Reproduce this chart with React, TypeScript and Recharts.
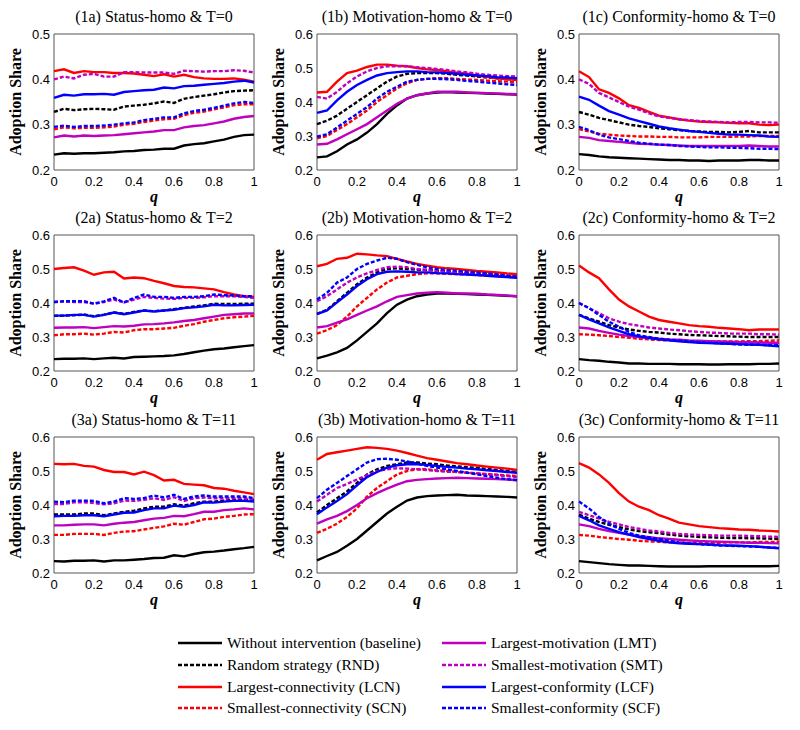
import React from "react";
import { LineChart, Line, XAxis, YAxis, ReferenceArea } from "recharts";

// q grid shared by every panel
const Q = [0, 0.05, 0.1, 0.15, 0.2, 0.25, 0.3, 0.35, 0.4, 0.45, 0.5, 0.55, 0.6, 0.65, 0.7, 0.75, 0.8, 0.85, 0.9, 0.95, 1];
const X_TICKS = [0, 0.2, 0.4, 0.6, 0.8, 1];
const Y_TICKS_05 = [0.2, 0.3, 0.4, 0.5];
const Y_TICKS_06 = [0.2, 0.3, 0.4, 0.5, 0.6];

// (1a) Status-homo & T=0
const p1a = {
  base: [0.234, 0.237, 0.236, 0.237, 0.237, 0.238, 0.239, 0.241, 0.242, 0.244, 0.245, 0.247, 0.247, 0.254, 0.257, 0.259, 0.263, 0.267, 0.273, 0.277, 0.278],
  rnd: [0.328, 0.335, 0.332, 0.334, 0.335, 0.334, 0.333, 0.34, 0.342, 0.344, 0.347, 0.351, 0.348, 0.357, 0.361, 0.364, 0.367, 0.371, 0.374, 0.375, 0.376],
  lcn: [0.418, 0.422, 0.414, 0.418, 0.416, 0.416, 0.414, 0.414, 0.413, 0.41, 0.407, 0.411, 0.406, 0.41, 0.405, 0.402, 0.401, 0.401, 0.402, 0.399, 0.395],
  scn: [0.29, 0.294, 0.292, 0.293, 0.293, 0.294, 0.296, 0.3, 0.302, 0.306, 0.309, 0.312, 0.313, 0.321, 0.326, 0.329, 0.334, 0.338, 0.343, 0.345, 0.345],
  lmt: [0.272, 0.276, 0.274, 0.276, 0.275, 0.276, 0.277, 0.279, 0.281, 0.283, 0.285, 0.288, 0.288, 0.294, 0.297, 0.299, 0.303, 0.307, 0.313, 0.317, 0.319],
  smt: [0.4, 0.406, 0.402, 0.41, 0.412, 0.406, 0.406, 0.416, 0.416, 0.415, 0.415, 0.415, 0.412, 0.419, 0.418, 0.417, 0.418, 0.418, 0.42, 0.419, 0.415],
  lcf: [0.359, 0.366, 0.364, 0.367, 0.367, 0.368, 0.366, 0.372, 0.374, 0.376, 0.377, 0.382, 0.38, 0.385, 0.386, 0.388, 0.39, 0.392, 0.395, 0.397, 0.393],
  scf: [0.295, 0.298, 0.295, 0.297, 0.297, 0.298, 0.3, 0.303, 0.305, 0.31, 0.313, 0.316, 0.316, 0.325, 0.33, 0.333, 0.337, 0.342, 0.347, 0.35, 0.348],
};

// (1b) Motivation-homo & T=0
const p1b = {
  base: [0.237, 0.24, 0.255, 0.275, 0.29, 0.31, 0.335, 0.365, 0.39, 0.41, 0.42, 0.425, 0.428, 0.429, 0.428, 0.427, 0.426, 0.425, 0.424, 0.423, 0.422],
  rnd: [0.335, 0.345, 0.36, 0.38, 0.4, 0.42, 0.44, 0.46, 0.475, 0.483, 0.485, 0.485, 0.485, 0.483, 0.48, 0.478, 0.475, 0.472, 0.47, 0.468, 0.465],
  lcn: [0.428, 0.43, 0.46, 0.485, 0.492, 0.503, 0.51, 0.51, 0.507, 0.505, 0.5, 0.496, 0.494, 0.49, 0.486, 0.483, 0.478, 0.474, 0.47, 0.467, 0.465],
  scn: [0.293, 0.3, 0.318, 0.335, 0.355, 0.375, 0.4, 0.42, 0.44, 0.455, 0.465, 0.468, 0.47, 0.47, 0.468, 0.466, 0.465, 0.463, 0.461, 0.46, 0.458],
  lmt: [0.275, 0.277, 0.29, 0.305, 0.32, 0.335, 0.355, 0.375, 0.395, 0.41, 0.42, 0.425, 0.43, 0.43, 0.43, 0.428, 0.427, 0.426, 0.425, 0.424, 0.423],
  smt: [0.415, 0.41, 0.43, 0.455, 0.475, 0.49, 0.5, 0.505, 0.505, 0.505, 0.502, 0.5, 0.497, 0.494, 0.49, 0.487, 0.483, 0.48, 0.478, 0.476, 0.475],
  lcf: [0.368, 0.375, 0.405, 0.43, 0.45, 0.465, 0.478, 0.485, 0.488, 0.49, 0.49, 0.488, 0.487, 0.485, 0.483, 0.48, 0.478, 0.476, 0.473, 0.472, 0.47],
  scf: [0.298, 0.305, 0.325, 0.345, 0.365, 0.385, 0.41, 0.43, 0.445, 0.46, 0.465, 0.468, 0.468, 0.467, 0.465, 0.462, 0.46, 0.457, 0.455, 0.452, 0.45],
};

// (1c) Conformity-homo & T=0
const p1c = {
  base: [0.235, 0.233, 0.23, 0.228, 0.227, 0.226, 0.225, 0.224, 0.223, 0.222, 0.222, 0.221, 0.221, 0.22, 0.221, 0.221, 0.221, 0.222, 0.222, 0.221, 0.221],
  rnd: [0.328, 0.322, 0.315, 0.31, 0.305, 0.3, 0.297, 0.295, 0.292, 0.29, 0.288, 0.286, 0.285, 0.284, 0.284, 0.283, 0.284, 0.286, 0.283, 0.283, 0.283],
  lcn: [0.418, 0.405, 0.378, 0.37, 0.358, 0.343, 0.337, 0.328, 0.32, 0.316, 0.312, 0.309, 0.307, 0.306, 0.305, 0.304, 0.303, 0.303, 0.3, 0.299, 0.3],
  scn: [0.29, 0.285, 0.28, 0.278, 0.276, 0.275, 0.274, 0.274, 0.273, 0.273, 0.272, 0.272, 0.272, 0.273, 0.273, 0.273, 0.274, 0.274, 0.275, 0.275, 0.275],
  lmt: [0.273, 0.271, 0.266, 0.264, 0.262, 0.26, 0.258, 0.257, 0.256, 0.255, 0.254, 0.253, 0.253, 0.253, 0.253, 0.253, 0.253, 0.254, 0.253, 0.252, 0.252],
  smt: [0.4, 0.39, 0.37, 0.36, 0.35, 0.34, 0.333, 0.325, 0.318, 0.315, 0.312, 0.31, 0.308, 0.307, 0.306, 0.305, 0.306, 0.306, 0.305, 0.305, 0.304],
  lcf: [0.362, 0.355, 0.342, 0.33, 0.322, 0.314, 0.308, 0.302, 0.296, 0.292, 0.289, 0.286, 0.284, 0.282, 0.28, 0.278, 0.278, 0.277, 0.276, 0.274, 0.273],
  scf: [0.295, 0.288, 0.278, 0.272, 0.268, 0.264, 0.26, 0.258, 0.256, 0.255, 0.253, 0.252, 0.251, 0.25, 0.25, 0.249, 0.249, 0.248, 0.247, 0.247, 0.246],
};

// (2a) Status-homo & T=2
const p2a = {
  base: [0.235, 0.236, 0.236, 0.237, 0.235, 0.237, 0.239, 0.237, 0.241, 0.242, 0.243, 0.244, 0.246, 0.25, 0.255, 0.26, 0.264, 0.266, 0.27, 0.273, 0.276],
  rnd: [0.362, 0.363, 0.364, 0.366, 0.361, 0.366, 0.372, 0.368, 0.374, 0.378, 0.376, 0.378, 0.382, 0.386, 0.39, 0.393, 0.398, 0.397, 0.397, 0.398, 0.398],
  lcn: [0.5, 0.503, 0.505, 0.495, 0.483, 0.49, 0.492, 0.472, 0.475, 0.473, 0.465, 0.458, 0.45, 0.447, 0.446, 0.443, 0.44, 0.432, 0.425, 0.42, 0.418],
  scn: [0.305, 0.308, 0.308, 0.31, 0.307, 0.31, 0.315, 0.313, 0.32, 0.323, 0.323, 0.325, 0.327, 0.333, 0.338, 0.345, 0.35, 0.355, 0.358, 0.36, 0.362],
  lmt: [0.327, 0.328, 0.328, 0.329, 0.326, 0.329, 0.332, 0.331, 0.333, 0.337, 0.338, 0.34, 0.343, 0.347, 0.35, 0.355, 0.36, 0.365, 0.367, 0.369, 0.369],
  smt: [0.403, 0.405, 0.403, 0.403, 0.398, 0.403, 0.41, 0.402, 0.41, 0.418, 0.415, 0.413, 0.412, 0.415, 0.415, 0.417, 0.42, 0.42, 0.42, 0.418, 0.415],
  lcf: [0.363, 0.363, 0.365, 0.365, 0.36, 0.365, 0.372, 0.367, 0.372, 0.378, 0.375, 0.378, 0.38, 0.385, 0.387, 0.39, 0.395, 0.393, 0.393, 0.394, 0.395],
  scf: [0.403, 0.405, 0.405, 0.405, 0.398, 0.405, 0.415, 0.402, 0.415, 0.425, 0.418, 0.418, 0.415, 0.418, 0.418, 0.42, 0.425, 0.423, 0.422, 0.42, 0.42],
};

// (2b) Motivation-homo & T=2
const p2b = {
  base: [0.237, 0.245, 0.255, 0.268, 0.29, 0.315, 0.34, 0.37, 0.395, 0.41, 0.42, 0.425, 0.428, 0.428, 0.427, 0.426, 0.425, 0.424, 0.423, 0.421, 0.42],
  rnd: [0.368, 0.38, 0.405, 0.43, 0.455, 0.475, 0.49, 0.5, 0.502, 0.5, 0.498, 0.497, 0.495, 0.493, 0.491, 0.489, 0.487, 0.485, 0.483, 0.48, 0.478],
  lcn: [0.508, 0.515, 0.53, 0.533, 0.545, 0.543, 0.54, 0.538, 0.53, 0.522, 0.515, 0.51, 0.505, 0.502, 0.5, 0.497, 0.494, 0.492, 0.49, 0.487, 0.485],
  scn: [0.31, 0.32, 0.335, 0.36, 0.39, 0.415, 0.44, 0.46, 0.475, 0.48, 0.485, 0.487, 0.487, 0.486, 0.485, 0.484, 0.482, 0.481, 0.48, 0.478, 0.476],
  lmt: [0.328, 0.332, 0.342, 0.352, 0.365, 0.378, 0.39, 0.405, 0.418, 0.423, 0.428, 0.43, 0.432, 0.43, 0.428, 0.428, 0.427, 0.425, 0.424, 0.422, 0.42],
  smt: [0.405, 0.42, 0.44, 0.46, 0.475, 0.487, 0.497, 0.505, 0.507, 0.505, 0.5, 0.497, 0.495, 0.493, 0.49, 0.488, 0.486, 0.485, 0.483, 0.48, 0.477],
  lcf: [0.367, 0.378, 0.402, 0.425, 0.45, 0.47, 0.485, 0.492, 0.493, 0.492, 0.49, 0.49, 0.488, 0.487, 0.485, 0.484, 0.482, 0.48, 0.478, 0.476, 0.474],
  scf: [0.41, 0.43, 0.46, 0.475, 0.5, 0.515, 0.525, 0.533, 0.53, 0.52, 0.512, 0.505, 0.5, 0.497, 0.495, 0.492, 0.49, 0.487, 0.484, 0.48, 0.477],
};

// (2c) Conformity-homo & T=2
const p2c = {
  base: [0.235, 0.232, 0.23, 0.227, 0.225, 0.222, 0.222, 0.221, 0.221, 0.221, 0.22, 0.22, 0.22, 0.219, 0.219, 0.22, 0.22, 0.22, 0.221, 0.221, 0.222],
  rnd: [0.365, 0.355, 0.345, 0.335, 0.328, 0.322, 0.318, 0.315, 0.313, 0.31, 0.308, 0.306, 0.305, 0.304, 0.303, 0.302, 0.301, 0.3, 0.3, 0.3, 0.3],
  lcn: [0.51, 0.49, 0.473, 0.44, 0.41, 0.39, 0.375, 0.36, 0.35, 0.345, 0.34, 0.335, 0.332, 0.33, 0.327, 0.325, 0.323, 0.32, 0.322, 0.322, 0.322],
  scn: [0.308, 0.307, 0.305, 0.303, 0.3, 0.298, 0.295, 0.293, 0.291, 0.29, 0.289, 0.288, 0.288, 0.287, 0.287, 0.287, 0.287, 0.288, 0.288, 0.289, 0.29],
  lmt: [0.328, 0.325, 0.318, 0.312, 0.307, 0.303, 0.3, 0.298, 0.295, 0.293, 0.292, 0.29, 0.289, 0.288, 0.287, 0.286, 0.285, 0.285, 0.284, 0.283, 0.283],
  smt: [0.4, 0.385, 0.37, 0.355, 0.345, 0.338, 0.333, 0.328, 0.325, 0.322, 0.32, 0.317, 0.315, 0.313, 0.312, 0.31, 0.31, 0.31, 0.308, 0.308, 0.307],
  lcf: [0.365, 0.352, 0.34, 0.328, 0.318, 0.308, 0.302, 0.297, 0.293, 0.29, 0.287, 0.285, 0.283, 0.282, 0.281, 0.28, 0.279, 0.278, 0.277, 0.275, 0.273],
  scf: [0.4, 0.385, 0.365, 0.345, 0.33, 0.315, 0.305, 0.3, 0.295, 0.292, 0.29, 0.287, 0.285, 0.283, 0.282, 0.28, 0.278, 0.277, 0.277, 0.276, 0.276],
};

// (3a) Status-homo & T=11
const p3a = {
  base: [0.235, 0.234, 0.236, 0.236, 0.237, 0.234, 0.237, 0.237, 0.239, 0.241, 0.244, 0.245, 0.252, 0.249, 0.256, 0.261, 0.263, 0.266, 0.27, 0.273, 0.277],
  rnd: [0.372, 0.372, 0.372, 0.375, 0.375, 0.37, 0.375, 0.38, 0.383, 0.39, 0.395, 0.395, 0.402, 0.398, 0.405, 0.41, 0.41, 0.413, 0.415, 0.415, 0.415],
  lcn: [0.521, 0.52, 0.521, 0.515, 0.513, 0.503, 0.497, 0.497, 0.49, 0.498, 0.488, 0.472, 0.474, 0.462, 0.46, 0.458, 0.45, 0.448, 0.442, 0.437, 0.432],
  scn: [0.312, 0.312, 0.315, 0.315, 0.315, 0.312, 0.318, 0.322, 0.323, 0.328, 0.333, 0.337, 0.345, 0.342, 0.35, 0.358, 0.36, 0.365, 0.368, 0.372, 0.373],
  lmt: [0.34, 0.34, 0.342, 0.343, 0.343, 0.34, 0.345, 0.348, 0.35, 0.355, 0.36, 0.362, 0.368, 0.367, 0.373, 0.38, 0.38, 0.385, 0.387, 0.39, 0.387],
  smt: [0.403, 0.403, 0.408, 0.408, 0.406, 0.402, 0.405, 0.413, 0.412, 0.415, 0.42, 0.415, 0.423, 0.412, 0.42, 0.422, 0.42, 0.42, 0.42, 0.42, 0.415],
  lcf: [0.367, 0.368, 0.368, 0.37, 0.37, 0.367, 0.372, 0.377, 0.378, 0.385, 0.39, 0.39, 0.398, 0.395, 0.4, 0.408, 0.407, 0.41, 0.412, 0.412, 0.41],
  scf: [0.41, 0.408, 0.413, 0.413, 0.412, 0.405, 0.41, 0.42, 0.418, 0.42, 0.428, 0.422, 0.43, 0.418, 0.425, 0.428, 0.425, 0.425, 0.425, 0.425, 0.42],
};

// (3b) Motivation-homo & T=11
const p3b = {
  base: [0.237, 0.25, 0.262, 0.28, 0.3, 0.325, 0.35, 0.375, 0.395, 0.413, 0.422, 0.426, 0.428, 0.429, 0.43, 0.428, 0.427, 0.426, 0.425, 0.424, 0.422],
  rnd: [0.378, 0.4, 0.42, 0.44, 0.465, 0.49, 0.505, 0.515, 0.52, 0.525, 0.525, 0.522, 0.52, 0.516, 0.514, 0.511, 0.509, 0.506, 0.503, 0.5, 0.497],
  lcn: [0.533, 0.55, 0.555, 0.56, 0.565, 0.57, 0.568, 0.565, 0.56, 0.553, 0.545, 0.538, 0.533, 0.528, 0.523, 0.52, 0.516, 0.513, 0.51, 0.507, 0.503],
  scn: [0.318, 0.33, 0.345, 0.365, 0.39, 0.425, 0.45, 0.47, 0.49, 0.5, 0.505, 0.505, 0.502, 0.5, 0.497, 0.495, 0.493, 0.491, 0.489, 0.487, 0.485],
  lmt: [0.345, 0.358, 0.368, 0.382, 0.4, 0.42, 0.435, 0.448, 0.46, 0.47, 0.474, 0.476, 0.478, 0.479, 0.48, 0.479, 0.478, 0.477, 0.476, 0.475, 0.473],
  smt: [0.41, 0.43, 0.45, 0.462, 0.475, 0.488, 0.5, 0.505, 0.508, 0.507, 0.505, 0.503, 0.5, 0.498, 0.497, 0.495, 0.493, 0.49, 0.488, 0.485, 0.482],
  lcf: [0.373, 0.393, 0.412, 0.432, 0.458, 0.482, 0.497, 0.51, 0.517, 0.52, 0.52, 0.518, 0.515, 0.512, 0.51, 0.507, 0.505, 0.502, 0.5, 0.497, 0.495],
  scf: [0.42, 0.445, 0.465, 0.485, 0.505, 0.525, 0.535, 0.536, 0.533, 0.528, 0.522, 0.515, 0.51, 0.505, 0.5, 0.495, 0.49, 0.485, 0.48, 0.476, 0.473],
};

// (3c) Conformity-homo & T=11
const p3c = {
  base: [0.235, 0.232, 0.229, 0.226, 0.224, 0.222, 0.222, 0.221, 0.22, 0.219, 0.219, 0.219, 0.219, 0.22, 0.22, 0.22, 0.22, 0.22, 0.22, 0.22, 0.221],
  rnd: [0.372, 0.36, 0.35, 0.342, 0.335, 0.328, 0.323, 0.32, 0.317, 0.313, 0.31, 0.308, 0.306, 0.305, 0.304, 0.303, 0.303, 0.302, 0.302, 0.301, 0.3],
  lcn: [0.523, 0.51, 0.49, 0.465, 0.435, 0.41, 0.395, 0.385, 0.37, 0.36, 0.348, 0.343, 0.338, 0.335, 0.332, 0.33, 0.328, 0.327, 0.325, 0.324, 0.322],
  scn: [0.312, 0.31, 0.306, 0.303, 0.3, 0.298, 0.295, 0.293, 0.292, 0.29, 0.29, 0.289, 0.289, 0.289, 0.289, 0.29, 0.29, 0.29, 0.291, 0.291, 0.292],
  lmt: [0.343, 0.338, 0.33, 0.323, 0.318, 0.313, 0.308, 0.305, 0.302, 0.3, 0.298, 0.296, 0.294, 0.293, 0.292, 0.291, 0.29, 0.289, 0.289, 0.288, 0.287],
  smt: [0.38, 0.37, 0.36, 0.35, 0.343, 0.335, 0.33, 0.325, 0.322, 0.318, 0.315, 0.313, 0.312, 0.311, 0.31, 0.31, 0.31, 0.309, 0.308, 0.307, 0.306],
  lcf: [0.368, 0.355, 0.34, 0.33, 0.32, 0.313, 0.306, 0.3, 0.295, 0.29, 0.287, 0.286, 0.285, 0.284, 0.282, 0.281, 0.28, 0.279, 0.277, 0.275, 0.273],
  scf: [0.41, 0.39, 0.365, 0.345, 0.33, 0.318, 0.31, 0.305, 0.3, 0.295, 0.29, 0.287, 0.285, 0.283, 0.281, 0.28, 0.279, 0.278, 0.277, 0.275, 0.274],
};

const MAGENTA = "#bf00bf";

const SERIES = [
  { key: "base", name: "Without intervention (baseline)", color: "#000000", dashed: false },
  { key: "rnd", name: "Random strategy (RND)", color: "#000000", dashed: true },
  { key: "lcn", name: "Largest-connectivity (LCN)", color: "#ff0000", dashed: false },
  { key: "scn", name: "Smallest-connectivity (SCN)", color: "#ff0000", dashed: true },
  { key: "lmt", name: "Largest-motivation (LMT)", color: MAGENTA, dashed: false },
  { key: "smt", name: "Smallest-motivation (SMT)", color: MAGENTA, dashed: true },
  { key: "lcf", name: "Largest-conformity (LCF)", color: "#0000ff", dashed: false },
  { key: "scf", name: "Smallest-conformity (SCF)", color: "#0000ff", dashed: true },
];

const PANELS = [
  { title: "(1a) Status-homo & T=0", data: p1a, yMax: 0.5, row: 0, col: 0 },
  { title: "(1b) Motivation-homo & T=0", data: p1b, yMax: 0.6, row: 0, col: 1 },
  { title: "(1c) Conformity-homo & T=0", data: p1c, yMax: 0.5, row: 0, col: 2 },
  { title: "(2a) Status-homo & T=2", data: p2a, yMax: 0.6, row: 1, col: 0 },
  { title: "(2b) Motivation-homo & T=2", data: p2b, yMax: 0.6, row: 1, col: 1 },
  { title: "(2c) Conformity-homo & T=2", data: p2c, yMax: 0.6, row: 1, col: 2 },
  { title: "(3a) Status-homo & T=11", data: p3a, yMax: 0.6, row: 2, col: 0 },
  { title: "(3b) Motivation-homo & T=11", data: p3b, yMax: 0.6, row: 2, col: 1 },
  { title: "(3c) Conformity-homo & T=11", data: p3c, yMax: 0.6, row: 2, col: 2 },
];

const COL_LEFT = [0, 263, 525];
const ROW_TOP = [0, 201, 403];
const Y_AXIS_W = 54;
const PLOT_W = 200;
const PLOT_TOP = 34;
const PLOT_H = 136;
const X_AXIS_H = 40;
const CHART_W = Y_AXIS_W + PLOT_W + 10;
const CHART_H = PLOT_TOP + PLOT_H + X_AXIS_H;

const SERIF = "Liberation Serif";
const SANS = "Liberation Sans";
const DASH = "4 2";
const LINE_W = 2.4;

const YLabel = ({ viewBox }: any) => {
  const x = viewBox.x + viewBox.width - 39;
  const y = viewBox.y + viewBox.height / 2;
  return (
    <text x={x} y={y} transform={`rotate(-90 ${x} ${y})`} textAnchor="middle" dominantBaseline="central"
      fontFamily={SERIF} fontWeight="bold" fontSize={16} fill="#000">
      Adoption Share
    </text>
  );
};

const XLabel = ({ viewBox }: any) => (
  <text x={viewBox.x + viewBox.width / 2} y={viewBox.y + 32} textAnchor="middle"
    fontFamily={SERIF} fontWeight="bold" fontStyle="italic" fontSize={16} fill="#000">
    q
  </text>
);

const Panel = ({ panel }: { panel: (typeof PANELS)[number] }) => {
  const rows = Q.map((q, i) => {
    const r: Record<string, number> = { q };
    SERIES.forEach((s) => {
      r[s.key] = (panel.data as any)[s.key][i];
    });
    return r;
  });
  const yTicks = panel.yMax === 0.5 ? Y_TICKS_05 : Y_TICKS_06;
  const tickStyle = { fill: "#000", fontSize: 13, fontFamily: SANS };
  return (
    <div style={{ position: "absolute", left: COL_LEFT[panel.col], top: ROW_TOP[panel.row] }}>
      <LineChart width={CHART_W} height={CHART_H} data={rows}
        margin={{ top: PLOT_TOP, right: 10, bottom: 0, left: 0 }}>
        <XAxis dataKey="q" type="number" domain={[0, 1]} ticks={X_TICKS} height={X_AXIS_H}
          axisLine={false} tickLine={false} tickSize={0} tickMargin={7}
          tick={tickStyle} label={<XLabel />} />
        <YAxis type="number" domain={[0.2, panel.yMax]} ticks={yTicks} width={Y_AXIS_W}
          allowDataOverflow axisLine={false} tickLine={false} tickSize={0} tickMargin={4}
          tick={tickStyle} label={<YLabel />} />
        <ReferenceArea x1={0} x2={1} y1={0.2} y2={panel.yMax} fill="none" stroke="#555" strokeWidth={1} ifOverflow="visible" />
        {SERIES.map((s) => (
          <Line key={s.key} dataKey={s.key} type="linear" stroke={s.color} strokeWidth={LINE_W}
            strokeDasharray={s.dashed ? DASH : undefined} dot={false} activeDot={false}
            isAnimationActive={false} />
        ))}
      </LineChart>
    </div>
  );
};

const LEGEND_ROWS_Y = [643, 665, 687, 708];

export default function App() {
  return (
    <div style={{ position: "absolute", left: 0, top: 0, width: 800, height: 730, background: "#fff", overflow: "hidden" }}>
      {PANELS.map((p) => (
        <Panel key={p.title} panel={p} />
      ))}
      <svg width={800} height={730} style={{ position: "absolute", left: 0, top: 0, pointerEvents: "none" }}>
        {PANELS.map((p) => (
          <text key={p.title} x={COL_LEFT[p.col] + Y_AXIS_W + PLOT_W / 2} y={ROW_TOP[p.row] + 22}
            textAnchor="middle" fontFamily={SERIF} fontSize={16} fill="#000">
            {p.title}
          </text>
        ))}
        {SERIES.map((s, i) => {
          const col = i < 4 ? 0 : 1;
          const y = LEGEND_ROWS_Y[i % 4];
          const x0 = col === 0 ? 178 : 442;
          return (
            <g key={s.key}>
              <line x1={x0} x2={x0 + 44} y1={y} y2={y} stroke={s.color} strokeWidth={LINE_W}
                strokeDasharray={s.dashed ? DASH : undefined} />
              <text x={x0 + 49} y={y + 5} fontFamily={SERIF} fontSize={15.5} fill="#000">
                {s.name}
              </text>
            </g>
          );
        })}
      </svg>
    </div>
  );
}
